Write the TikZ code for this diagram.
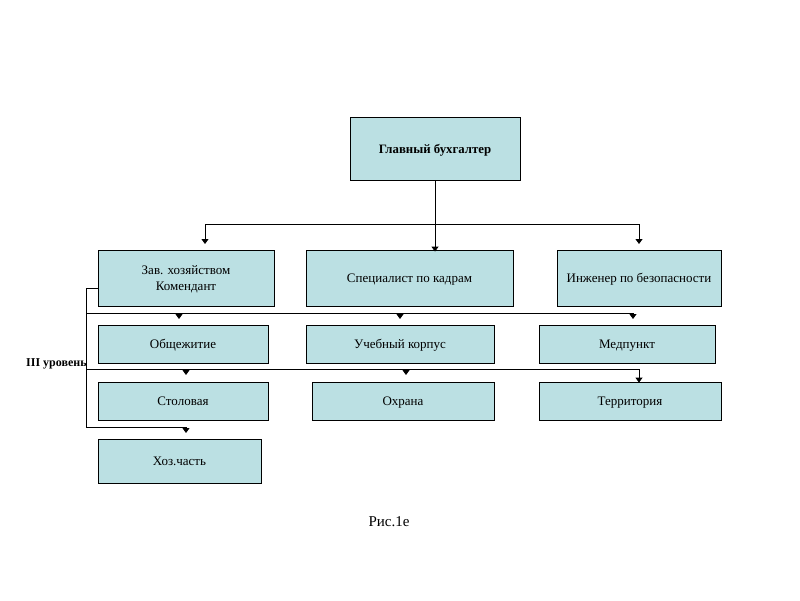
\documentclass[tikz,border=0pt]{standalone}
\usepackage{fontspec}
\setmainfont{Liberation Serif}
\usetikzlibrary{arrows.meta}
\begin{document}
\begin{tikzpicture}[x=1pt,y=-1pt,
  box/.style={draw=black,line width=0.8pt,fill=boxfill,inner sep=0pt,align=center,
    text depth=0pt,font=\fontsize{13}{16}\selectfont},
  conn/.style={line width=0.8pt,draw=black},
  arr/.style={conn,-{Triangle[width=7pt,length=5pt]}}]
\definecolor{boxfill}{RGB}{187,224,227}
\useasboundingbox (0,0) rectangle (800,600);
% boxes
\node[box,minimum width=170pt,minimum height=63pt,font=\fontsize{12.8}{15}\selectfont\bfseries] (gb) at (435,148.5) {Главный бухгалтер};
\node[box,minimum width=176pt,minimum height=56pt] (zav) at (186,278) {Зав. хозяйством\\Комендант};
\node[box,minimum width=207pt,minimum height=56pt] (sk) at (409.5,278) {Специалист по кадрам};
\node[box,minimum width=164pt,minimum height=56pt] (ib) at (639,278) {Инженер по безопасности};
\node[box,minimum width=170pt,minimum height=38pt] (ob) at (183,344) {Общежитие};
\node[box,minimum width=188pt,minimum height=38pt] (uk) at (400,344) {Учебный корпус};
\node[box,minimum width=176pt,minimum height=38pt] (mp) at (627,344) {Медпункт};
\node[box,minimum width=170pt,minimum height=38pt] (st) at (183,401) {Столовая};
\node[box,minimum width=182pt,minimum height=38pt] (oh) at (403,401) {Охрана};
\node[box,minimum width=182pt,minimum height=38pt] (te) at (630,401) {Территория};
\node[box,minimum width=163pt,minimum height=44pt] (hz) at (179.5,461) {Хоз.часть};
% labels
\node[font=\fontsize{12}{15}\selectfont\bfseries,anchor=west,inner sep=0pt] (lvl) at (26,364) {III уровень};
\node[font=\fontsize{15}{18}\selectfont,inner sep=0pt] (fig) at (389,522) {Рис.1е};
% top bus
\coordinate (t1) at (205,224);
\coordinate (t3) at (639,224);
\coordinate (e1) at (205,244);
\coordinate (e3) at (639,244);
\draw[arr] (gb.south) -- ([yshift=-2pt]sk.north -| gb.south);
\draw[conn] (t1) -- (t3);
\draw[arr] (t1) -- (e1);
\draw[arr] (t3) -- (e3);
% left bracket and buses
\coordinate (lb0) at (86,288);
\coordinate (lb1) at (86,313);
\coordinate (lb2) at (86,369);
\coordinate (lb3) at (86,427);
\draw[conn] (zav.west |- lb0) -- (lb0) -- (lb3);
\draw[conn] (lb1) -- (633,313);
\draw[conn] (lb2) -- (639,369);
\draw[conn] (lb3) -- (186,427);
\coordinate (a1) at (179,313); \coordinate (a2) at (400,313); \coordinate (a3) at (633,313);
\draw[arr] (a1) -- +(0,6);
\draw[arr] (a2) -- +(0,6);
\draw[arr] (a3) -- +(0,6);
\coordinate (b1) at (186,369); \coordinate (b2) at (406,369); \coordinate (b3) at (639,369);
\draw[arr] (b1) -- +(0,6);
\draw[arr] (b2) -- +(0,6);
\draw[arr] (b3) -- ([yshift=-1pt]te.north -| b3);
\coordinate (c1) at (186,427);
\draw[arr] (c1) -- +(0,6);
\end{tikzpicture}
\end{document}
